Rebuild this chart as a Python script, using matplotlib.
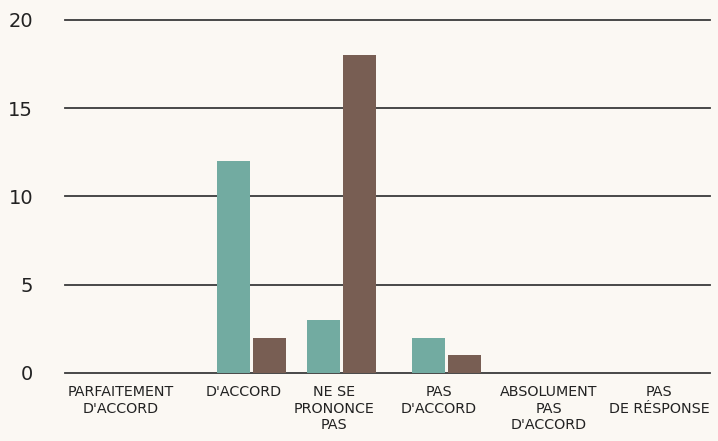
import numpy as np
import matplotlib.pyplot as plt

categories = ["PARFAITEMENT\nD'ACCORD", "D'ACCORD", "NE SE\nPRONONCE\nPAS",
              "PAS\nD'ACCORD", "ABSOLUMENT\nPAS\nD'ACCORD", "PAS\nDE RÉSPONSE"]
serie_a = [0, 12, 3, 2, 0, 0]
serie_b = [0, 2, 18, 1, 0, 0]

bg = "#fbf8f3"
teal = "#72aba1"
brown = "#785e53"

fig = plt.figure(figsize=(7.18, 4.41), dpi=100, facecolor=bg)
ax = fig.add_axes([65 / 718, 68 / 441, 645 / 718, 353 / 441], facecolor=bg)

# group centres and label centres, in axis pixels
label_x = np.array([56, 179, 269, 374, 484, 594])
group_x = label_x + 7
w = 33

ax.set_xlim(0, 645)
ax.set_ylim(0, 20)
ax.set_yticks([0, 5, 10, 15, 20])
for y in [0, 5, 10, 15, 20]:
    ax.axhline(y, color="#3a3a3a", lw=1.3, zorder=1, clip_on=False)

ax.bar(group_x - w / 2 - 1.5, serie_a, width=w, color=teal, zorder=2)
ax.bar(group_x + w / 2 + 1.5, serie_b, width=w, color=brown, zorder=2)

ax.set_xticks(label_x)
ax.set_xticklabels(categories, fontsize=10.3, color="#222222", linespacing=1.2)
ax.tick_params(axis="x", length=0, pad=9)
ax.tick_params(axis="y", length=0, pad=23, labelsize=14, labelcolor="#222222")
for s in ax.spines.values():
    s.set_visible(False)

plt.savefig("out.png", dpi=100, facecolor=bg)
